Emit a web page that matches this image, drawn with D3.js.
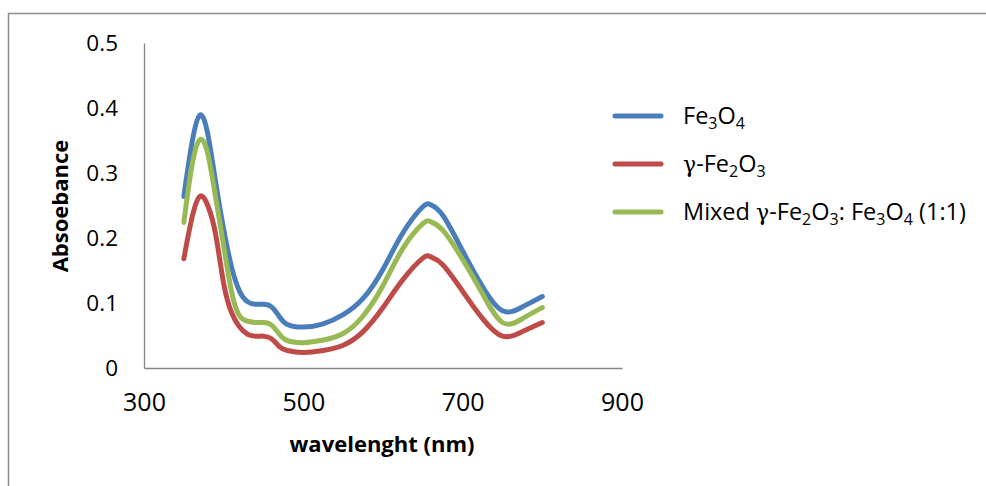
<!DOCTYPE html>
<html>
<head>
<meta charset="utf-8">
<script src="https://cdn.jsdelivr.net/npm/d3@7"></script>
<style>
	body { margin: 0; background: #fff; }
	svg { display: block; font-family: "Open Sans", "Noto Sans", sans-serif; }
</style>
</head>
<body>
<div id="absorbance-chart"></div>
<script>

// wavelengths (nm)
const wavelengths = [350, 360, 370, 380, 390, 400, 410, 420, 430, 440, 450, 460, 470, 480,
	500, 525, 550, 575, 600, 625, 650, 660, 675, 700, 725, 750, 775, 800];

const fe3o4 = [0.264, 0.345, 0.389, 0.360, 0.285, 0.213, 0.155, 0.118, 0.102, 0.098, 0.098, 0.094, 0.079, 0.067,
	0.063, 0.068, 0.082, 0.107, 0.152, 0.208, 0.248, 0.251, 0.235, 0.180, 0.125, 0.088, 0.094, 0.110];

const gammaFe2o3 = [0.168, 0.230, 0.264, 0.250, 0.205, 0.130, 0.085, 0.063, 0.052, 0.049, 0.049, 0.045, 0.033, 0.027,
	0.024, 0.027, 0.035, 0.056, 0.093, 0.136, 0.169, 0.171, 0.159, 0.118, 0.076, 0.049, 0.056, 0.070];

const mixed = [0.224, 0.310, 0.351, 0.330, 0.262, 0.188, 0.117, 0.080, 0.072, 0.070, 0.070, 0.066, 0.052, 0.042,
	0.039, 0.043, 0.053, 0.080, 0.127, 0.184, 0.222, 0.225, 0.212, 0.167, 0.114, 0.070, 0.076, 0.093];

const xTicks = [300, 500, 700, 900];
const yTicks = [0, 0.1, 0.2, 0.3, 0.4, 0.5];

// legend labels as [text, kind] pieces: 0 normal, 1 subscript, 2 greek letter
const seriesNames = [
	[["Fe", 0], ["3", 1], ["O", 0], ["4", 1]],
	[["\u03B3", 2], ["-Fe", 0], ["2", 1], ["O", 0], ["3", 1]],
	[["Mixed ", 0], ["\u03B3", 2], ["-Fe", 0], ["2", 1], ["O", 0], ["3", 1], [": Fe", 0], ["3", 1], ["O", 0], ["4", 1], [" (1:1)", 0]]
];
const seriesValues = [fe3o4, gammaFe2o3, mixed];
const seriesColors = ["#4A7EBB", "#BE4B48", "#98B954"];

const W = 986, H = 486;

const svg = d3.select("#absorbance-chart")
	.append("svg")
	.attr("width", W)
	.attr("height", H);

// outer chart frame
svg.append("rect")
	.attr("x", 8.5).attr("y", 13.5)
	.attr("width", 1000).attr("height", 500)
	.attr("fill", "none")
	.attr("stroke", "#8c8c8c")
	.attr("stroke-width", 1.5);

const x = d3.scaleLinear().domain([300, 900]).range([144, 622]);
const y = d3.scaleLinear().domain([0, 0.5]).range([368, 43]);

// axes (no tick marks, just the lines and labels)
const xAxis = svg.append("g")
	.attr("transform", "translate(0,368)")
	.call(d3.axisBottom(x).tickValues(xTicks).tickSize(0).tickPadding(25));
xAxis.select(".domain").attr("stroke", "#868686").attr("stroke-width", 1.3);
xAxis.selectAll("text")
	.attr("font-family", "Open Sans")
	.attr("font-size", 25)
	.attr("fill", "#000");

const yAxis = svg.append("g")
	.attr("transform", "translate(144,0)")
	.call(d3.axisLeft(y).tickValues(yTicks).tickSize(0).tickPadding(26)
		.tickFormat(d => d === 0 ? "0" : d3.format(".1f")(d)));
yAxis.select(".domain").attr("stroke", "#868686").attr("stroke-width", 1.3);
yAxis.selectAll("text")
	.attr("font-family", "Open Sans")
	.attr("font-size", 22.5)
	.attr("fill", "#000");

// axis titles
svg.append("text")
	.attr("x", 382).attr("y", 452)
	.attr("text-anchor", "middle")
	.attr("font-size", 22)
	.attr("font-weight", "bold")
	.text("wavelenght (nm)");

svg.append("text")
	.attr("transform", "translate(68,206) rotate(-90)")
	.attr("text-anchor", "middle")
	.attr("font-size", 22)
	.attr("font-weight", "bold")
	.text("Absoebance");

// smoothed lines
const line = d3.line()
	.x((d, i) => x(wavelengths[i]))
	.y(d => y(d))
	.curve(d3.curveNatural);

svg.selectAll(".series")
	.data(seriesValues)
	.enter()
	.append("path")
	.attr("class", "series")
	.attr("fill", "none")
	.attr("stroke", (d, i) => seriesColors[i])
	.attr("stroke-width", 5)
	.attr("stroke-linecap", "round")
	.attr("stroke-linejoin", "round")
	.attr("d", line);

// legend
const legendY = [116, 164, 212];
const legend = svg.selectAll(".legend")
	.data(seriesNames)
	.enter()
	.append("g")
	.attr("class", "legend")
	.attr("transform", (d, i) => "translate(0," + legendY[i] + ")");

legend.append("line")
	.attr("x1", 615).attr("x2", 661)
	.attr("stroke", (d, i) => seriesColors[i])
	.attr("stroke-width", 5)
	.attr("stroke-linecap", "round");

const labels = legend.append("text")
	.attr("x", 683).attr("y", 8)
	.attr("font-size", 23.5)
	.attr("fill", "#000");

labels.each(function(parts) {
	const t = d3.select(this);
	parts.forEach(([s, kind], k) => {
		const ts = t.append("tspan").text(s);
		if (kind === 1) {
			ts.attr("font-size", 16).attr("dy", 5);
		} else if (k > 0 && parts[k - 1][1] === 1) {
			ts.attr("dy", -5);
		}
		if (kind === 2) {
			ts.attr("font-family", "DejaVu Serif").attr("font-size", 22);
		}
	});
});

</script>
</body>
</html>
